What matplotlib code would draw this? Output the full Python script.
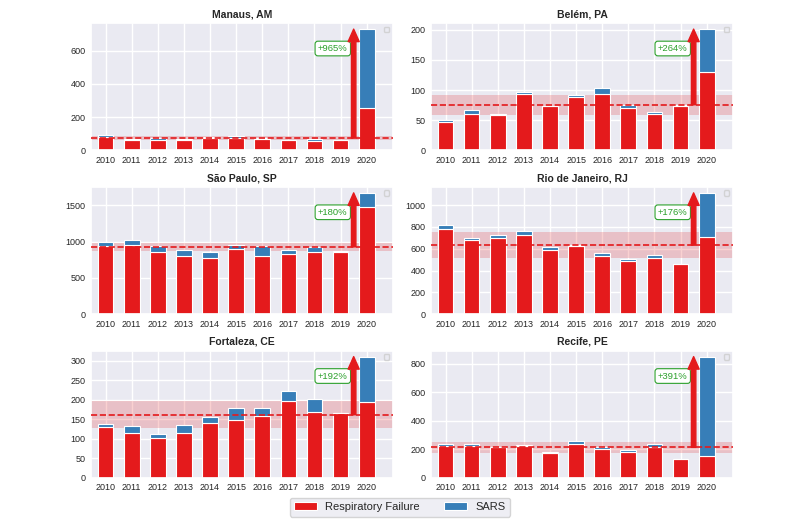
import numpy as np
import matplotlib
matplotlib.use("Agg")
import matplotlib.pyplot as plt
import seaborn as sns

sns.set_theme(style="darkgrid")
plt.rcParams['font.family'] = ['Liberation Sans', 'DejaVu Sans']

years = [str(y) for y in range(2010, 2021)]

cities = ["Manaus, AM", "Belém, PA", "São Paulo, SP",
          "Rio de Janeiro, RJ", "Fortaleza, CE", "Recife, PE"]

# respiratory failure deaths per year
resp_manaus = [80, 60, 64, 64, 76, 74, 66, 60, 58, 63, 256]
resp_belem = [47, 60, 59, 93, 73, 88, 93, 71, 61, 73, 130]
resp_sp = [945, 958, 862, 806, 774, 899, 806, 829, 862, 862, 1475]
resp_rj = [782, 678, 699, 724, 589, 629, 534, 488, 515, 460, 709]
resp_fortaleza = [131, 114, 103, 115, 141, 148, 159, 197, 168, 165, 195]
resp_recife = [225, 225, 213, 220, 175, 239, 199, 180, 213, 131, 152]

# SARS deaths per year
sars_manaus = [12, 8, 8, 2, 4, 14, 10, 4, 10, 2, 474]
sars_belem = [4, 7, 2, 3, 1, 3, 11, 4, 2, 2, 71]
sars_sp = [55, 60, 83, 83, 88, 59, 129, 60, 64, 4, 198]
sars_rj = [37, 24, 25, 37, 28, 9, 24, 21, 25, 3, 404]
sars_fortaleza = [6, 18, 8, 19, 14, 31, 19, 25, 33, 1, 115]
sars_recife = [14, 9, 5, 9, 3, 18, 19, 14, 26, 2, 697]

growth_labels = ["+965%", "+264%", "+180%", "+176%", "+192%", "+391%"]

resp_all = [resp_manaus, resp_belem, resp_sp, resp_rj, resp_fortaleza, resp_recife]
sars_all = [sars_manaus, sars_belem, sars_sp, sars_rj, sars_fortaleza, sars_recife]

red = '#e41a1c'
blue = '#377eb8'

fig, axes = plt.subplots(3, 2, figsize=(8, 5.24), dpi=100)
fig.subplots_adjust(left=0.114, right=0.916, bottom=0.088, top=0.956,
                    hspace=0.286, wspace=0.127)

x = np.arange(len(years))
for ax, city, resp, sars, lab in zip(axes.flat, cities, resp_all, sars_all, growth_labels):
    resp = np.array(resp)
    sars = np.array(sars)
    total = resp + sars
    past = total[:-1]
    mean = past.mean()
    std = past.std(ddof=1)

    ax.bar(x, resp, width=0.6, color=red, edgecolor='white', linewidth=0.8,
           label='Respiratory Failure', zorder=2)
    ax.bar(x, sars, width=0.6, bottom=resp, color=blue, edgecolor='white',
           linewidth=0.8, label='SARS', zorder=2)
    ax.axhspan(mean - std, mean + std, color=red, alpha=0.2, lw=0, zorder=1)
    ax.axhline(mean, color=red, ls='--', lw=1.2, zorder=3)

    ax.annotate('', xy=(9.5, total[-1]), xytext=(9.5, mean),
                arrowprops=dict(arrowstyle='simple,head_width=0.8,head_length=0.9,tail_width=0.32',
                                color=red, mutation_scale=10, shrinkA=0, shrinkB=0),
                zorder=4)
    ax.text(8.7, 0.8, lab, transform=ax.get_xaxis_transform(), ha='center', va='center',
            fontsize=6.8, color='#2ca02c',
            bbox=dict(boxstyle='round,pad=0.3', fc='white', ec='#2ca02c', lw=0.8))

    ax.set_xticks(x)
    ax.set_xticklabels(years)
    ax.set_xlim(-0.55, 11.0)
    ax.tick_params(labelsize=6.5, length=0, pad=4)
    ax.set_title(city, fontsize=7.5, fontweight='bold', pad=4)
    ax.legend(handles=[], loc='upper right', fontsize=5)

handles, labels = axes[0, 0].get_legend_handles_labels()
fig.legend(handles[:2], ['Respiratory Failure', 'SARS'], loc='center',
           bbox_to_anchor=(0.5, 0.032), ncol=2, fontsize=8, handlelength=2.0,
           columnspacing=2.2, frameon=True)

fig.savefig('out.png', dpi=100)
